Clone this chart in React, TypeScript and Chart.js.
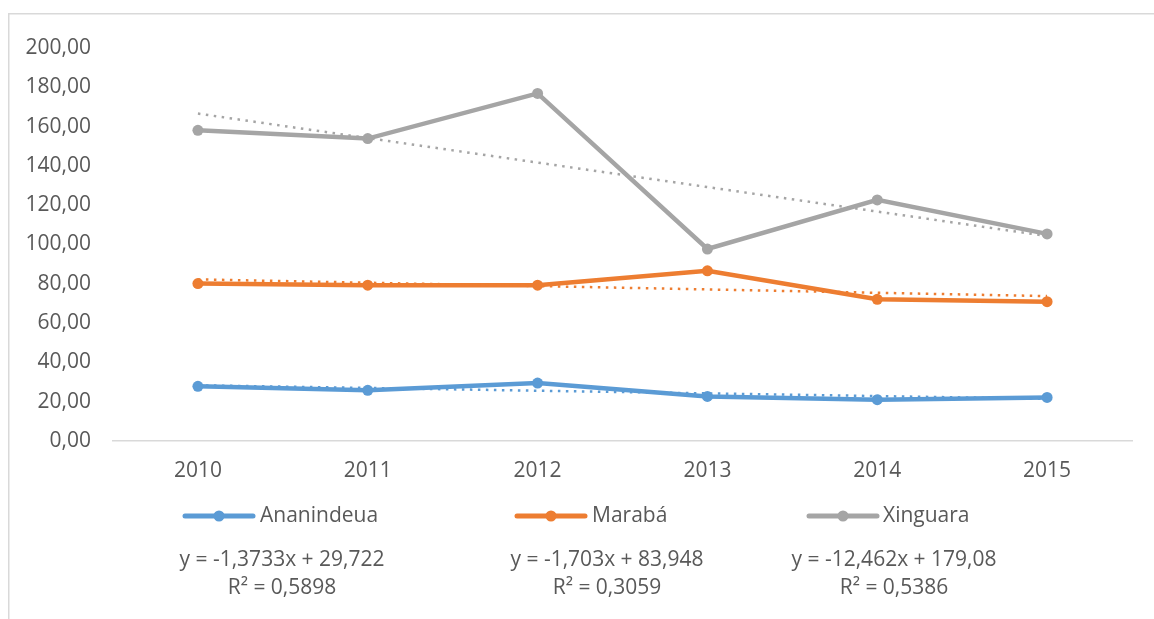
import React, { useEffect, useRef } from "react";
import { Chart, registerables } from "chart.js";

Chart.register(...registerables);

const years = ["2010", "2011", "2012", "2013", "2014", "2015"];
const seriesNames = ["Ananindeua", "Marabá", "Xinguara"];
const ananindeua = [27.8, 25.8, 29.5, 22.7, 21.0, 22.2];
const maraba = [80.1, 79.3, 79.3, 86.6, 72.1, 70.9];
const xinguara = [158.1, 153.9, 176.9, 97.7, 122.7, 105.4];
const trendAnanindeua = [28.35, 26.98, 25.6, 24.23, 22.86, 21.48];
const trendMaraba = [82.25, 80.54, 78.84, 77.14, 75.43, 73.73];
const trendXinguara = [166.62, 154.16, 141.69, 129.23, 116.77, 104.31];
const equations = ["y = -1,3733x + 29,722", "y = -1,703x + 83,948", "y = -12,462x + 179,08"];
const rSquared = ["R² = 0,5898", "R² = 0,3059", "R² = 0,5386"];
const colors = ["#5B9BD5", "#ED7D31", "#A5A5A5"];

const FONT = "'Open Sans', 'Liberation Sans', sans-serif";
const TEXT = "#595959";

const legendPos = [
  { x: 183, text: 260 },
  { x: 515, text: 592 },
  { x: 807, text: 883 },
];
const eqCenters = [282, 607, 894];

const overlayPlugin = {
  id: "overlay",
  afterDraw(chart: any) {
    const ctx = chart.ctx as CanvasRenderingContext2D;
    ctx.save();
    ctx.strokeStyle = "#d9d9d9";
    ctx.lineWidth = 1.5;
    ctx.beginPath();
    ctx.moveTo(8.75, 619);
    ctx.lineTo(8.75, 13.75);
    ctx.lineTo(1154, 13.75);
    ctx.stroke();
    const ly = 516;
    seriesNames.forEach((name, i) => {
      const p = legendPos[i];
      ctx.strokeStyle = colors[i];
      ctx.lineWidth = 5;
      ctx.lineCap = "round";
      ctx.beginPath();
      ctx.moveTo(p.x + 2, ly);
      ctx.lineTo(p.x + 70, ly);
      ctx.stroke();
      ctx.fillStyle = colors[i];
      ctx.beginPath();
      ctx.arc(p.x + 36, ly, 5.5, 0, Math.PI * 2);
      ctx.fill();
      ctx.fillStyle = TEXT;
      ctx.font = `21px ${FONT}`;
      ctx.textAlign = "left";
      ctx.textBaseline = "middle";
      ctx.fillText(name, p.text, ly);
    });
    ctx.fillStyle = TEXT;
    ctx.font = `21px ${FONT}`;
    ctx.textAlign = "center";
    ctx.textBaseline = "middle";
    equations.forEach((eq, i) => {
      ctx.fillText(eq, eqCenters[i], 560);
      ctx.fillText(rSquared[i], eqCenters[i], 588);
    });
    ctx.restore();
  },
};

export default function App() {
  const ref = useRef<HTMLCanvasElement>(null);
  useEffect(() => {
    if (!ref.current) return;
    const main = [ananindeua, maraba, xinguara];
    const trends = [trendAnanindeua, trendMaraba, trendXinguara];
    const datasets: any[] = [];
    main.forEach((d, i) => {
      datasets.push({
        label: seriesNames[i],
        data: d,
        borderColor: colors[i],
        backgroundColor: colors[i],
        borderWidth: 4.5,
        pointRadius: 5.5,
        pointBorderWidth: 0,
        pointBackgroundColor: colors[i],
        tension: 0,
        order: 2,
      });
    });
    trends.forEach((d, i) => {
      datasets.push({
        label: "Linear (" + seriesNames[i] + ")",
        data: d,
        borderColor: colors[i],
        borderWidth: 2.5,
        borderDash: [2.5, 5.5],
        pointRadius: 0,
        tension: 0,
        order: 1,
      });
    });
    const chart = new Chart(ref.current, {
      type: "line",
      data: { labels: years, datasets },
      options: {
        animation: false,
        responsive: false,
        maintainAspectRatio: false,
        layout: { padding: { left: 0, right: 22, top: 48, bottom: 0 } },
        plugins: { legend: { display: false }, tooltip: { enabled: false } },
        scales: {
          x: {
            offset: true,
            grid: { display: false, drawTicks: false },
            border: { display: true, color: "#d9d9d9", width: 1.5 },
            ticks: { color: TEXT, font: { size: 21, family: FONT }, padding: 17 },
            afterFit: (s: any) => {
              s.height = 178;
            },
          },
          y: {
            min: 0,
            max: 200,
            grid: { display: false, drawTicks: false },
            border: { display: false },
            ticks: {
              stepSize: 20,
              color: TEXT,
              font: { size: 21, family: FONT },
              padding: 22,
              callback: (v: any) => Number(v).toFixed(2).replace(".", ","),
            },
            afterFit: (s: any) => {
              s.width = 113;
            },
          },
        },
      },
      plugins: [overlayPlugin],
    });
    return () => chart.destroy();
  }, []);
  return (
    <div style={{ position: "fixed", left: 0, top: 0, width: 1154, height: 619, background: "#fff" }}>
      <canvas ref={ref} width={1154} height={619} style={{ width: 1154, height: 619, display: "block" }} />
    </div>
  );
}
